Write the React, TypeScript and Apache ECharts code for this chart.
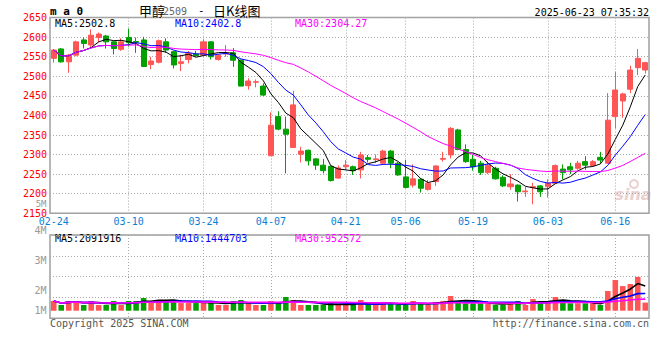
import React, { useEffect, useRef } from 'react';
import * as echarts from 'echarts';

const dates = [
  '2025-02-24','2025-02-25','2025-02-26','2025-02-27','2025-02-28',
  '2025-03-03','2025-03-04','2025-03-05','2025-03-06','2025-03-07',
  '2025-03-10','2025-03-11','2025-03-12','2025-03-13','2025-03-14',
  '2025-03-17','2025-03-18','2025-03-19','2025-03-20','2025-03-21',
  '2025-03-24','2025-03-25','2025-03-26','2025-03-27','2025-03-28',
  '2025-03-31','2025-04-01','2025-04-02','2025-04-03',
  '2025-04-07','2025-04-08','2025-04-09','2025-04-10','2025-04-11',
  '2025-04-14','2025-04-15','2025-04-16','2025-04-17','2025-04-18',
  '2025-04-21','2025-04-22','2025-04-23','2025-04-24','2025-04-25',
  '2025-04-28','2025-04-29','2025-04-30',
  '2025-05-06','2025-05-07','2025-05-08','2025-05-09',
  '2025-05-12','2025-05-13','2025-05-14','2025-05-15','2025-05-16',
  '2025-05-19','2025-05-20','2025-05-21','2025-05-22','2025-05-23',
  '2025-05-26','2025-05-27','2025-05-28','2025-05-29','2025-05-30',
  '2025-06-03','2025-06-04','2025-06-05','2025-06-06',
  '2025-06-09','2025-06-10','2025-06-11','2025-06-12','2025-06-13',
  '2025-06-16','2025-06-17','2025-06-18','2025-06-19','2025-06-20',
];

const opens = [
  2546,2570,2537,2554,2593,2580,2599,2603,2588,2569,
  2599,2589,2593,2530,2536,2588,2563,2533,2543,2557,
  2554,2588,2543,2557,2560,2541,2476,2485,2475,2297,
  2397,2365,2318,2301,2311,2289,2273,2270,2240,2269,
  2269,2261,2292,2287,2278,2309,2278,2243,2222,2237,
  2211,2231,2288,2299,2363,2313,2288,2278,2254,2265,
  2242,2218,2222,2205,2216,2220,2218,2227,2263,2269,
  2265,2282,2272,2293,2278,2397,2437,2467,2522,2516,
];
const closes = [
  2567,2537,2554,2588,2584,2605,2608,2588,2571,2588,
  2586,2587,2525,2539,2591,2567,2529,2537,2558,2553,
  2588,2550,2554,2559,2541,2475,2488,2486,2452,2375,
  2365,2352,2427,2309,2284,2273,2259,2234,2266,2273,
  2259,2299,2288,2289,2309,2278,2248,2216,2238,2214,
  2227,2271,2290,2367,2313,2282,2269,2254,2273,2238,
  2220,2225,2205,2207,2218,2205,2227,2272,2254,2261,
  2278,2273,2282,2286,2388,2465,2455,2516,2546,2535,
];
const lows = [
  2535,2535,2509,2551,2571,2575,2587,2571,2556,2565,
  2576,2560,2525,2518,2533,2560,2520,2513,2533,2550,
  2551,2543,2540,2550,2524,2475,2466,2472,2450,2297,
  2362,2252,2318,2280,2272,2261,2252,2231,2238,2260,
  2248,2239,2280,2278,2276,2265,2246,2214,2216,2203,
  2208,2220,2282,2290,2311,2279,2259,2248,2250,2236,
  2217,2210,2180,2192,2173,2192,2190,2225,2237,2250,
  2261,2261,2269,2278,2277,2367,2394,2457,2503,2507,
];
const highs = [
  2569,2572,2557,2591,2599,2620,2612,2606,2590,2597,
  2622,2599,2601,2550,2594,2597,2565,2555,2565,2565,
  2594,2590,2557,2580,2572,2543,2495,2492,2482,2408,
  2411,2397,2463,2320,2313,2291,2289,2272,2272,2286,
  2272,2307,2299,2300,2312,2312,2281,2286,2275,2240,
  2235,2273,2307,2370,2366,2326,2299,2284,2282,2269,
  2247,2250,2224,2218,2228,2222,2237,2275,2275,2279,
  2284,2296,2286,2307,2457,2512,2458,2527,2570,2537,
];
const volumes = [
  850000,500000,850000,850000,500000,850000,500000,500000,850000,500000,
  850000,850000,1110000,850000,940000,850000,940000,670000,670000,670000,
  670000,850000,500000,500000,850000,940000,670000,500000,500000,850000,
  760000,1200000,940000,500000,500000,500000,500000,760000,500000,500000,
  500000,940000,500000,500000,770000,650000,500000,500000,850000,650000,
  500000,770000,850000,1290000,850000,650000,650000,650000,650000,500000,
  500000,770000,850000,500000,1020000,770000,850000,1200000,850000,650000,
  650000,650000,650000,500000,1730000,2690000,2160000,2340000,2960000,710000,
];

const dateTickLabels = ['02-24','03-10','03-24','04-07','04-21','05-06','05-19','06-03','06-16'];
const priceLegend = ['MA5:2502.8', 'MA10:2402.8', 'MA30:2304.27'];
const volumeLegend = ['MA5:2091916', 'MA10:1444703', 'MA30:952572'];
const volumeTickLabels = ['5M', '4M', '3M', '2M', '1M'];
const titleName = '甲醇';
const titleCode = '2509';
const titleSuffix = '日K线图';
const stampText = '2025-06-23 07:35:32';
const copyrightText = 'Copyright 2025 SINA.COM';
const urlText = 'http://finance.sina.com.cn';

const RED = '#ff5555';
const GREEN = '#00a000';
const MA_COLORS = ['#000000', '#0000ff', '#ff00ff'];
const MONO = '"DejaVu Sans Mono", monospace';

function movingAverage(arr: number[], n: number) {
  return arr.map((_, i) => {
    const s = Math.max(0, i - n + 1);
    let sum = 0;
    for (let k = s; k <= i; k++) sum += arr[k];
    return +(sum / (i - s + 1)).toFixed(2);
  });
}

export default function App() {
  const ref = useRef<HTMLDivElement>(null);
  useEffect(() => {
    if (!ref.current) return;
    const chart = echarts.init(ref.current, undefined, { renderer: 'svg' });
    const tickSet = new Set(dateTickLabels);
    const labelInterval = (_i: number, v: string) => tickSet.has(v.slice(5));
    const splitInterval = (i: number, v: string) => i > 0 && tickSet.has(v.slice(5));
    const gridLine = { color: '#a8a8a8', width: 1, type: [1, 2] as any };

    const candleData = dates.map((_, i) => [opens[i], closes[i], lows[i], highs[i]]);
    const volData = volumes.map((v, i) => ({
      value: v,
      itemStyle: { color: closes[i] >= opens[i] ? RED : GREEN },
    }));
    const periods = [5, 10, 30];

    const textEl = (text: string, x: number, y: number, fill: string, align = 'left', font = `10px ${MONO}`, lineHeight?: number) => ({
      type: 'text',
      x, y,
      silent: true,
      style: { text, fill, font, textAlign: align, textVerticalAlign: 'middle', ...(lineHeight ? { lineHeight } : {}) },
    });

    const volLabelY = [203.8, 230.7, 260.7, 290.7, 310.7];
    const volLabelSize = [9, 10, 10, 10, 10];
    const legendX = [55, 175, 295];

    const graphics: any[] = [
      textEl('m a 0', 50, 11, '#000', 'left', `bold 11px ${MONO}`),
      textEl(titleName, 139, 10, '#000', 'left', '13px "Noto Sans CJK SC"'),
      textEl(titleCode, 163, 11, '#666', 'left', `10px ${MONO}`),
      textEl('-', 198, 10, '#000', 'left', `11px ${MONO}`),
      textEl(titleSuffix, 213, 10, '#000', 'left', '13px "Noto Sans CJK SC"'),
      textEl(stampText, 649, 12, '#000', 'right'),
      ...priceLegend.map((t, k) => textEl(t, legendX[k], 23.5, MA_COLORS[k])),
      ...volumeLegend.map((t, k) => textEl(t, legendX[k], 238.5, MA_COLORS[k])),
      ...volumeTickLabels.map((t, k) => textEl(t, 46.5, volLabelY[k], '#999', 'right', `${volLabelSize[k]}px ${MONO}`, 7)),
      textEl(copyrightText, 50, 323.5, '#555'),
      textEl(urlText, 649, 323.5, '#555', 'right'),
      {
        type: 'text', x: 633, y: 194, silent: true, z: -1,
        style: { text: 'sina', fill: '#ead0d0', font: 'italic bold 16px "DejaVu Sans"', textAlign: 'center', textVerticalAlign: 'middle' },
      },
      { type: 'circle', silent: true, z: -1, shape: { cx: 634, cy: 184, r: 4 }, style: { fill: 'none', stroke: '#ead0d0', lineWidth: 2 } },
    ];

    chart.setOption({
      animation: false,
      backgroundColor: '#fff',
      grid: [
        { left: 50, right: 11, top: 17.6, height: 195.7, show: true, borderColor: '#a0a0a0', borderWidth: 1.5, backgroundColor: 'transparent' },
        { left: 50, right: 11, top: 235, height: 83.3, show: true, borderColor: '#a0a0a0', borderWidth: 1.5, backgroundColor: 'transparent' },
      ],
      xAxis: [
        {
          type: 'category', gridIndex: 0, data: dates, boundaryGap: true,
          axisLine: { show: false }, axisTick: { show: false },
          axisLabel: { interval: labelInterval, formatter: (v: string) => v.slice(5), color: '#0a7fd6', fontFamily: MONO, fontSize: 10, margin: 3 },
          splitLine: { show: true, interval: splitInterval, alignWithLabel: true, lineStyle: gridLine },
        },
        {
          type: 'category', gridIndex: 1, data: dates, boundaryGap: true,
          axisLine: { show: false }, axisTick: { show: false }, axisLabel: { show: false },
          splitLine: { show: true, interval: splitInterval, alignWithLabel: true, lineStyle: gridLine },
        },
      ],
      yAxis: [
        {
          type: 'value', gridIndex: 0, min: 2150, max: 2650, interval: 50, position: 'left',
          axisLine: { show: false }, axisTick: { show: false },
          axisLabel: { color: '#ff0000', fontFamily: MONO, fontSize: 10, margin: 3, lineHeight: 8, formatter: (v: number) => String(v) },
          splitLine: { show: true, lineStyle: gridLine },
        },
        {
          type: 'value', gridIndex: 1, min: -667000, max: 6640000, show: false,
          splitLine: { show: false },
        },
        {
          type: 'value', gridIndex: 1, min: 0, max: 4, interval: 1, position: 'left',
          axisLine: { show: false }, axisTick: { show: false }, axisLabel: { show: false },
          splitLine: { show: true, lineStyle: gridLine },
        },
      ],
      series: [
        {
          type: 'candlestick', xAxisIndex: 0, yAxisIndex: 0, data: candleData, barWidth: '74%',
          itemStyle: { color: RED, color0: GREEN, borderColor: RED, borderColor0: GREEN, borderWidth: 1 },
        },
        ...periods.map((p, k) => ({
          type: 'line', xAxisIndex: 0, yAxisIndex: 0, data: movingAverage(closes, p),
          showSymbol: false, symbol: 'none', silent: true, z: 3,
          lineStyle: { color: MA_COLORS[k], width: 1 },
        })),
        {
          type: 'bar', xAxisIndex: 1, yAxisIndex: 1, data: volData, barWidth: '74%',
        },
        ...periods.map((p, k) => ({
          type: 'line', xAxisIndex: 1, yAxisIndex: 1, data: movingAverage(volumes, p),
          showSymbol: false, symbol: 'none', silent: true, z: 3,
          lineStyle: { color: MA_COLORS[k], width: 1.6 },
        })),
      ],
      graphic: graphics,
    });
    return () => chart.dispose();
  }, []);
  return <div ref={ref} style={{ position: 'absolute', left: 0, top: 0, width: 660, height: 360 }} />;
}
